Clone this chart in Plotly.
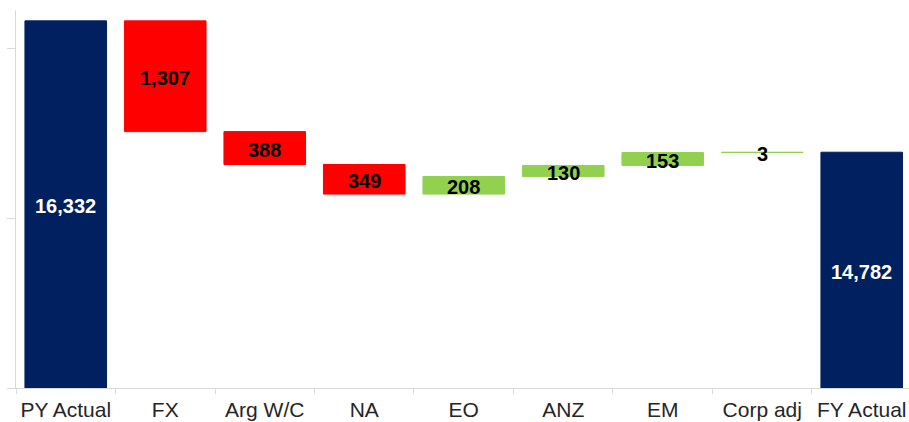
import plotly.graph_objects as go

categories = ["PY Actual", "FX", "Arg W/C", "NA", "EO", "ANZ", "EM", "Corp adj", "FY Actual"]
values = [16332, -1307, -388, -349, 208, 130, 153, 3, 14782]
kinds = ["total", "delta", "delta", "delta", "delta", "delta", "delta", "delta", "total"]

NAVY = "#002060"
RED = "#FF0000"
GREEN = "#92D050"
Y_MIN, Y_MAX = 12000, 16460

bases, heights, colors, label_y, label_color, labels = [], [], [], [], [], []
running = 0
for v, k in zip(values, kinds):
    if k == "total":
        b, h = 0, v
        running = v
        colors.append(NAVY)
        label_color.append("white")
    else:
        if v < 0:
            b, h = running + v, -v
            colors.append(RED)
        else:
            b, h = running, v
            colors.append(GREEN)
        running += v
        label_color.append("black")
    bases.append(b)
    heights.append(h)
    lo = max(b, Y_MIN)
    label_y.append((lo + b + h) / 2)
    labels.append(f"{abs(v):,}")

fig = go.Figure()
fig.add_trace(go.Bar(
    x=categories, y=heights, base=bases,
    marker=dict(color=colors, line=dict(color=colors, width=1)),
    width=0.82, hoverinfo="skip",
))
for c, y, t, col in zip(categories, label_y, labels, label_color):
    fig.add_annotation(x=c, y=y, text=f"<b>{t}</b>", showarrow=False, yshift=-2,
                       font=dict(family="Liberation Sans, Arial", size=20, color=col))

fig.update_layout(
    width=909, height=422,
    margin=dict(l=16, r=0, t=10, b=34, autoexpand=False),
    plot_bgcolor="white", paper_bgcolor="white",
    showlegend=False,
)
fig.update_xaxes(
    type="category", range=[-0.5, 8.475], tickangle=0, automargin=False,
    showline=True, linecolor="#d9d9d9", linewidth=1,
    ticks="outside", tickson="boundaries", ticklen=5, tickcolor="#d9d9d9",
    ticklabelstandoff=3,
    showgrid=False,
    tickfont=dict(family="Liberation Sans, Arial", size=21, color="#262626"),
)
fig.update_yaxes(
    range=[Y_MIN, Y_MAX], dtick=2000, tick0=0, automargin=False,
    showline=True, linecolor="#d9d9d9", linewidth=1,
    ticks="outside", ticklen=8, tickcolor="#d9d9d9",
    showticklabels=False, showgrid=False, zeroline=False,
)
fig.write_html(
    "out.html",
    config={"displayModeBar": False},
    post_script="document.body.style.margin='0';document.body.style.overflow='hidden';",
)
